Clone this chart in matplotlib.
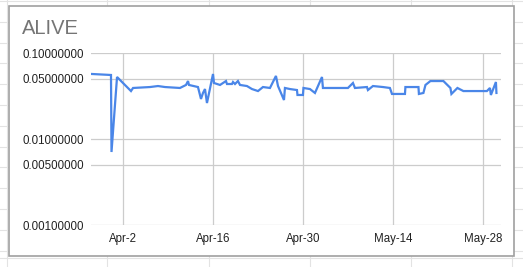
import pandas as pd
import matplotlib.pyplot as plt
from matplotlib.patches import Rectangle
from matplotlib.lines import Line2D
from matplotlib.ticker import FixedLocator, NullLocator

title = 'ALIVE'
base_date = '2018-04-02'

# days after base_date, and price
day_offsets = [-4.82, -1.87, -1.79, -0.93, 1.24, 1.56, 4.20, 5.44, 6.53, 8.86,
               9.80, 10.11, 10.26, 11.66, 12.13, 12.44, 12.75, 13.06, 14.00, 14.15,
               15.09, 16.02, 16.17, 16.95, 17.11, 17.42, 17.88, 18.20, 19.28, 20.06,
               21.00, 21.77, 22.86, 23.79, 24.11, 25.04, 25.19, 25.97, 27.06, 27.14,
               27.99, 28.07, 29.08, 29.86, 30.95, 31.10, 34.99, 35.77, 36.08, 37.95,
               38.10, 38.88, 40.44, 41.52, 41.84, 43.86, 43.93, 45.96, 46.03, 46.73,
               47.05, 47.82, 49.84, 50.93, 51.09, 52.02, 52.95, 56.61, 57.08, 57.23,
               58.01, 58.09]
prices = [0.0570, 0.0555, 0.00706, 0.0526, 0.0361, 0.0392, 0.0402, 0.0413, 0.0402, 0.0392,
          0.0425, 0.0472, 0.0425, 0.0402, 0.0292, 0.0343, 0.0381, 0.0262, 0.0570, 0.0448,
          0.0425, 0.0472, 0.0436, 0.0436, 0.0460, 0.0436, 0.0472, 0.0425, 0.0413, 0.0381,
          0.0361, 0.0402, 0.0392, 0.0541, 0.0413, 0.0284, 0.0392, 0.0381, 0.0371, 0.0325,
          0.0325, 0.0392, 0.0381, 0.0343, 0.0526, 0.0392, 0.0392, 0.0448, 0.0392, 0.0402,
          0.0371, 0.0413, 0.0402, 0.0392, 0.0334, 0.0334, 0.0402, 0.0402, 0.0334, 0.0343,
          0.0425, 0.0472, 0.0472, 0.0392, 0.0334, 0.0392, 0.0361, 0.0361, 0.0392, 0.0325,
          0.0460, 0.0343]

y_ticks = [0.001, 0.005, 0.01, 0.05, 0.1]
x_tick_offsets = [0, 14, 28, 42, 56]
x_tick_labels = ['Apr-2', 'Apr-16', 'Apr-30', 'May-14', 'May-28']
x_range = [-4.98, 58.8]

base = pd.Timestamp(base_date)
dates = base + pd.to_timedelta(day_offsets, unit='D')
tick_dates = base + pd.to_timedelta(x_tick_offsets, unit='D')
xlim = base + pd.to_timedelta(x_range, unit='D')

plt.rcParams['font.family'] = ['Liberation Sans', 'DejaVu Sans']

W, H = 523, 267
fig = plt.figure(figsize=(W / 100, H / 100), dpi=100)
fig.patch.set_facecolor('white')

# spreadsheet cells behind the chart
for x in [7, 107, 209, 310, 411, 512]:
    fig.add_artist(Line2D([x / W, x / W], [0, 1], color='#e3e3e3', lw=0.8, zorder=0))
for y in [1, 22, 43, 63, 84, 105, 126, 147, 167, 188, 209, 230, 251, 258]:
    fig.add_artist(Line2D([0, 1], [1 - y / H, 1 - y / H], color='#e3e3e3', lw=0.8, zorder=0))

# chart card
fig.add_artist(Rectangle((9 / W, 1 - 256 / H), 505 / W, 250 / H, transform=fig.transFigure,
                         facecolor='white', edgecolor='#a0a0a0', lw=1.2, zorder=1))

ax = fig.add_axes([91 / W, 1 - 225 / H, 410 / W, 172 / H], zorder=2)
ax.set_facecolor('none')
ax.plot(dates, prices, color='#4a86e8', lw=1.6, solid_joinstyle='miter', zorder=3)

ax.set_yscale('log')
ax.set_ylim(0.001, 0.1)
ax.yaxis.set_major_locator(FixedLocator(y_ticks))
ax.yaxis.set_minor_locator(NullLocator())
ax.set_yticklabels([f'{v:.8f}' for v in y_ticks])
ax.set_xlim(xlim[0], xlim[1])
ax.set_xticks(tick_dates)
ax.set_xticklabels(x_tick_labels)

for s in ax.spines.values():
    s.set_visible(False)
ax.grid(True, color='#cccccc', lw=0.9)
ax.set_axisbelow(True)
ax.tick_params(length=0, labelsize=8.3, colors='#222222')
ax.tick_params(axis='y', pad=5)
ax.tick_params(axis='x', pad=6)

fig.text(22 / W, 1 - 28 / H, title, fontsize=14.5, color='#757575', va='center', ha='left', zorder=3)

fig.savefig('out.png', dpi=100)
